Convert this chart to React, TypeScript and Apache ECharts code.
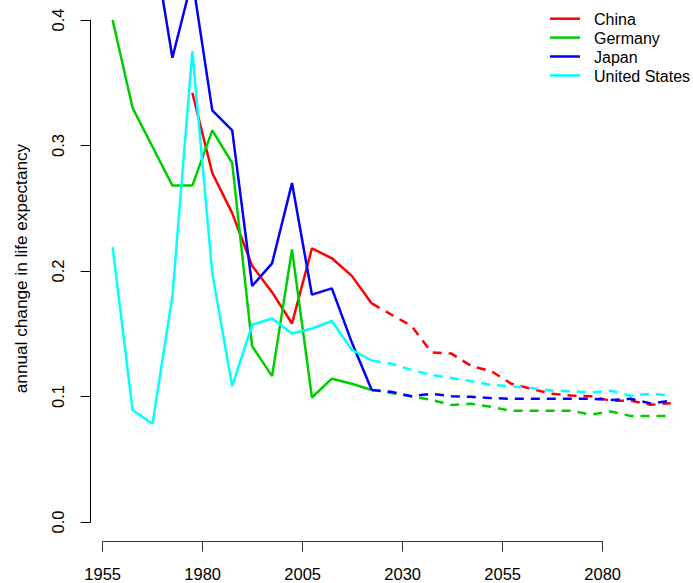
import React, { useEffect, useRef } from "react";
import * as echarts from "echarts";

const countries = ["China", "Germany", "Japan", "United States"];
const colors = ["#FF0000", "#00CD00", "#0000FF", "#00FFFF"];

// period midpoints (5-year periods)
const pastYears = [1957.5, 1962.5, 1967.5, 1972.5, 1977.5, 1982.5, 1987.5, 1992.5, 1997.5, 2002.5, 2007.5, 2012.5, 2017.5, 2022.5];
const projYears = [2022.5, 2027.5, 2032.5, 2037.5, 2042.5, 2047.5, 2052.5, 2057.5, 2062.5, 2067.5, 2072.5, 2077.5, 2082.5, 2087.5, 2092.5, 2097.5];

const chinaPast = [null, null, null, null, 0.342, 0.278, 0.246, 0.204, 0.183, 0.158, 0.218, 0.210, 0.196, 0.174];
const germanyPast = [0.400, 0.330, 0.299, 0.268, 0.268, 0.312, 0.286, 0.140, 0.116, 0.217, 0.099, 0.114, 0.110, 0.105];
const japanPast = [0.62, 0.52, 0.467, 0.370, 0.433, 0.328, 0.312, 0.188, 0.206, 0.270, 0.181, 0.186, 0.143, 0.105];
const usPast = [0.219, 0.089, 0.078, 0.180, 0.375, 0.198, 0.108, 0.157, 0.162, 0.150, 0.154, 0.160, 0.137, 0.1285];

const chinaProj = [0.174, 0.165, 0.156, 0.135, 0.134, 0.124, 0.120, 0.110, 0.106, 0.102, 0.1006, 0.100, 0.0964, 0.0964, 0.0932, 0.0945];
const germanyProj = [0.105, 0.1025, 0.0999, 0.097, 0.093, 0.094, 0.0915, 0.0884, 0.0884, 0.0884, 0.0884, 0.0853, 0.0879, 0.0842, 0.0842, 0.0842];
const japanProj = [0.105, 0.1035, 0.100, 0.102, 0.100, 0.0995, 0.0985, 0.098, 0.098, 0.098, 0.098, 0.098, 0.097, 0.098, 0.0943, 0.0964];
const usProj = [0.1285, 0.1259, 0.121, 0.117, 0.1145, 0.112, 0.109, 0.108, 0.1065, 0.1046, 0.104, 0.103, 0.1044, 0.1004, 0.102, 0.1006];

const pastValues = [chinaPast, germanyPast, japanPast, usPast];
const projValues = [chinaProj, germanyProj, japanProj, usProj];

const xTickMin = 1955;
const xTickMax = 2080;
const xTickStep = 25;
const yTickMin = 0;
const yTickMax = 0.4;
const yTickStep = 0.1;
const yTitle = "annual change in life expectancy";

const FONT = "'Liberation Sans', Arial, Helvetica, sans-serif";

function pairs(xs: number[], ys: (number | null)[]) {
  const out: number[][] = [];
  xs.forEach((x, i) => {
    const v = ys[i];
    if (v !== null && v !== undefined) out.push([x, v]);
  });
  return out;
}

export default function App() {
  const ref = useRef<HTMLDivElement>(null);
  useEffect(() => {
    document.body.style.margin = "0";
    if (!ref.current) return;
    const chart = echarts.init(ref.current, undefined, { renderer: "svg" });

    const series: any[] = [];
    countries.forEach((name, i) => {
      series.push({
        name,
        type: "line",
        xAxisIndex: 0,
        yAxisIndex: 0,
        data: pairs(pastYears, pastValues[i]),
        showSymbol: false,
        symbol: "none",
        lineStyle: { color: colors[i], width: 2.5 },
        clip: true,
        z: 3,
      });
      series.push({
        name: name + " projection",
        type: "line",
        xAxisIndex: 0,
        yAxisIndex: 0,
        data: pairs(projYears, projValues[i]),
        showSymbol: false,
        symbol: "none",
        lineStyle: { color: colors[i], width: 2.5, type: [9, 7] },
        clip: true,
        z: 3,
      });
    });

    const legendGraphics: any[] = [];
    countries.forEach((name, i) => {
      const y = 18.7 + i * 18.9;
      legendGraphics.push({
        type: "line",
        shape: { x1: 550, y1: y, x2: 580, y2: y },
        style: { stroke: colors[i], lineWidth: 2.5 },
      });
      legendGraphics.push({
        type: "text",
        x: 594,
        y: y + 0.8,
        style: {
          text: name,
          font: `16px ${FONT}`,
          fill: "#000",
          textAlign: "left",
          textVerticalAlign: "middle",
        },
      });
    });

    chart.setOption({
      animation: false,
      backgroundColor: "#fff",
      grid: [
        { left: 90.3, top: 0, width: 604.8, height: 541.7 },
        { left: 102.7, top: 0, width: 500, height: 541.7 },
        { left: 90.7, top: 20, width: 10, height: 502 },
      ],
      xAxis: [
        { gridIndex: 0, type: "value", min: 1951.9, max: 2103.1, show: false },
        {
          gridIndex: 1,
          type: "value",
          min: xTickMin,
          max: xTickMax,
          interval: xTickStep,
          position: "bottom",
          axisLine: { show: true, lineStyle: { color: "#333", width: 1 } },
          axisTick: { show: true, length: 10, lineStyle: { color: "#333", width: 1 } },
          axisLabel: {
            show: true,
            margin: 24,
            fontSize: 16.5,
            color: "#000",
            fontFamily: FONT,
            formatter: (v: number) => String(v),
          },
          splitLine: { show: false },
        },
        { gridIndex: 2, type: "value", show: false },
      ],
      yAxis: [
        { gridIndex: 0, type: "value", min: -0.016, max: 0.416, show: false },
        { gridIndex: 1, type: "value", show: false },
        {
          gridIndex: 2,
          type: "value",
          min: yTickMin,
          max: yTickMax,
          interval: yTickStep,
          position: "left",
          axisLine: { show: true, lineStyle: { color: "#000", width: 1 } },
          axisTick: { show: true, length: 10, lineStyle: { color: "#000", width: 1 } },
          axisLabel: {
            show: true,
            margin: 24,
            rotate: 90,
            fontSize: 16.5,
            color: "#000",
            fontFamily: FONT,
            formatter: (v: number) => v.toFixed(1),
          },
          splitLine: { show: false },
        },
      ],
      graphic: [
        {
          type: "text",
          x: 20.5,
          y: 268.5,
          rotation: Math.PI / 2,
          style: {
            text: yTitle,
            font: `17.2px ${FONT}`,
            fill: "#000",
            textAlign: "center",
            textVerticalAlign: "middle",
          },
        },
        ...legendGraphics,
      ],
      series,
    });
    return () => chart.dispose();
  }, []);

  return (
    <div
      ref={ref}
      style={{ position: "absolute", left: 0, top: 0, width: 693, height: 583 }}
    />
  );
}
